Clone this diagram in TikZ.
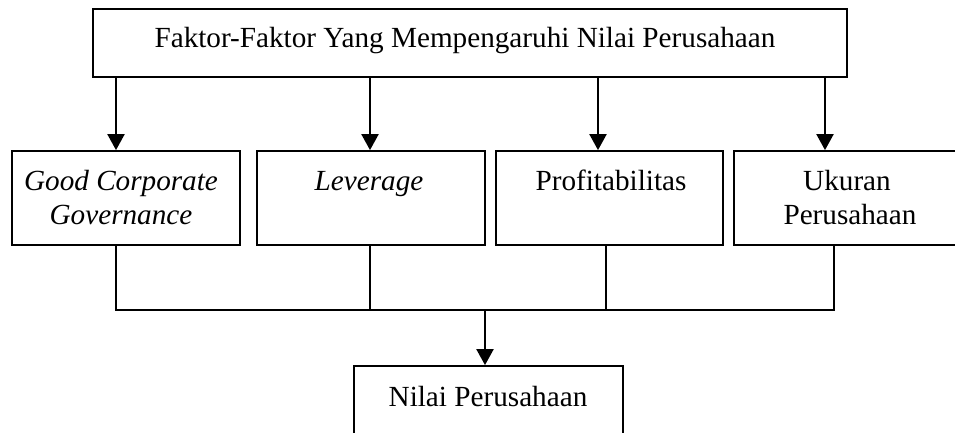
\documentclass[tikz,border=0pt]{standalone}
\usepackage{fontspec}
\setmainfont{Liberation Serif}
\usetikzlibrary{arrows.meta}
\tikzset{
  box/.style={draw, line width=1.8pt, inner sep=0pt, fill=white},
  lbl/.style={anchor=base, inner sep=0pt, font=\fontsize{29.2}{34}\selectfont},
  arr/.style={line width=2.1pt, -{Triangle[width=17pt,length=16pt]}},
  conn/.style={line width=1.4pt}
}
\begin{document}
\begin{tikzpicture}[x=1pt,y=-1pt]
\useasboundingbox (0,0) rectangle (955,432);
\clip (0,0) rectangle (955,432);
\fill[white] (0,0) rectangle (955,432);
% boxes
\node[box, minimum width=754pt, minimum height=68pt] (top) at (470,43) {};
\node[box, minimum width=228pt, minimum height=94pt] (b1) at (126,198) {};
\node[box, minimum width=228pt, minimum height=94pt] (b2) at (371,198) {};
\node[box, minimum width=227pt, minimum height=94pt] (b3) at (609.5,198) {};
\node[box, minimum width=232pt, minimum height=94pt] (b4) at (850,198) {};
\node[box, minimum width=269pt, minimum height=94pt] (bot) at (488.5,413) {};
% texts
\node[lbl] (ttop) at (465,47) {Faktor-Faktor Yang Mempengaruhi Nilai Perusahaan};
\node[lbl] (t1a) at (121,190) {\itshape Good Corporate};
\node[lbl] (t1b) at (121,224) {\itshape Governance};
\node[lbl] (t2) at (369,190) {\itshape Leverage};
\node[lbl] (t3) at (611,190) {Profitabilitas};
\node[lbl] (t4a) at (847,190) {Ukuran};
\node[lbl] (t4b) at (850,224) {Perusahaan};
\node[lbl] (t5) at (488,406) {Nilai Perusahaan};
% x positions
\coordinate (a1) at (116,0);
\coordinate (a2) at (370,0);
\coordinate (a3) at (598,0);
\coordinate (a4) at (825,0);
\coordinate (c1) at (116,0);
\coordinate (c2) at (370,0);
\coordinate (c3) at (606,0);
\coordinate (c4) at (834,0);
\coordinate (bus) at (485,310);
% arrows from top
\draw[arr] (top.south -| a1) -- (b1.north -| a1);
\draw[arr] (top.south -| a2) -- (b2.north -| a2);
\draw[arr] (top.south -| a3) -- (b3.north -| a3);
\draw[arr] (top.south -| a4) -- (b4.north -| a4);
% bus
\draw[conn] (b1.south -| c1) -- (bus -| c1) -- (bus -| c4) -- (b4.south -| c4);
\draw[conn] (b2.south -| c2) -- (bus -| c2);
\draw[conn] (b3.south -| c3) -- (bus -| c3);
\draw[arr] (bus) -- (bot.north -| bus);
\end{tikzpicture}
\end{document}
